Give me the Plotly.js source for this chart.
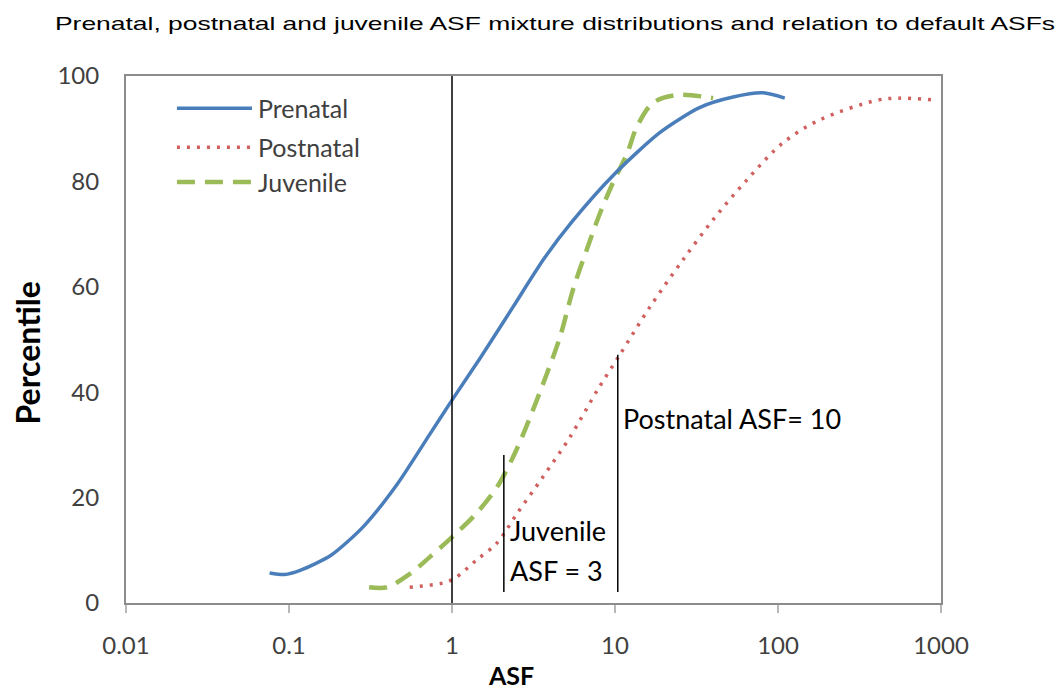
<!DOCTYPE html>
<html>
<head>
<meta charset="utf-8">
<script src="https://cdn.plot.ly/plotly-3.0.1.min.js"></script>
<style>html,body{margin:0;padding:0;background:#fff;}#chart{width:1058px;height:691px;}</style>
</head>
<body>
<div id="chart"></div>
<script>
// ---- data ----
const seriesNames = ["Prenatal", "Postnatal", "Juvenile"];

const prenatalX = [0.076, 0.094, 0.117, 0.18, 0.284, 0.46, 0.73, 1.0, 1.49, 2.37, 3.7, 5.5, 10, 18.9, 33, 53, 81, 110];
const prenatalY = [5.7, 5.4, 6.2, 9.0, 14.4, 22.5, 32, 38.5, 46.5, 56.2, 65.5, 72.5, 81.5, 89.3, 94, 96, 96.8, 95.8];

const postnatalX = [0.55, 0.88, 1.04, 1.42, 1.89, 2.51, 3.61, 5.3, 7.8, 10.7, 16.4, 26.1, 39.9, 64.5, 107, 181, 405, 557, 945];
const postnatalY = [3.0, 3.8, 4.7, 8.2, 11.4, 17.0, 23.9, 31.5, 40.4, 47.1, 56.2, 65.1, 72.7, 80.3, 87.3, 91.7, 95.4, 95.8, 95.4];

const juvenileX = [0.31, 0.4, 0.55, 0.73, 1.0, 1.42, 1.89, 2.37, 2.8, 3.83, 4.6, 5.52, 6.7, 8.1, 9.7, 11.9, 13.6, 17.1, 24, 40];
const juvenileY = [3.0, 3.0, 5.5, 8.7, 12.5, 17.1, 22, 27.7, 32.8, 43.6, 50.5, 59.4, 67, 74, 79.7, 85.4, 90.3, 94.9, 96.4, 95.8];

// default ASF marker lines
const defaultLineX = [1, 1];
const defaultLineY = [0, 100.8];
const juvenileMarkX = [2.08, 2.08];
const juvenileMarkY = [2.1, 28.1];
const postnatalMarkX = [10.4, 10.4];
const postnatalMarkY = [2.1, 47.1];

const xTickVals = [0.01, 0.1, 1, 10, 100, 1000];
const xTickText = ["0.01", "0.1", "1", "10", "100", "1000"];
const yTickVals = [0, 20, 40, 60, 80, 100];

const annJuvenile = {x: 2.2, lines: ["Juvenile", "ASF = 3"], y: [13.85, 6.26]};
const annPostnatal = {x: 10.9, text: "Postnatal ASF= 10", y: 35.1};

// ---- styles ----
const colors = ["#4a7ebb", "#d0605e", "#9bbb59"];
const dashes = ["solid", "3px,7px", "18px,10px"];
const widths = [3.5, 3.5, 4.5];
const smooth = [0.7, 0.9, 0.9];
const calib = "Lato, 'Open Sans', sans-serif";

const curves = [[prenatalX, prenatalY], [postnatalX, postnatalY], [juvenileX, juvenileY]];
const traces = curves.map((c, i) => ({
  x: c[0], y: c[1], type: "scatter", mode: "lines", name: seriesNames[i],
  line: {color: colors[i], width: widths[i], dash: dashes[i], shape: "spline", smoothing: smooth[i]},
  showlegend: false, hoverinfo: "x+y+name"
}));
const markLines = [[defaultLineX, defaultLineY], [juvenileMarkX, juvenileMarkY], [postnatalMarkX, postnatalMarkY]].map(m => ({
  x: m[0], y: m[1], type: "scatter", mode: "lines", line: {color: "#000", width: 1.5},
  showlegend: false, hoverinfo: "skip", cliponaxis: false
}));
const data = [traces[2], traces[1], traces[0]].concat(markLines);

// manual legend
const legX0 = 0.0625, legX1 = 0.1546, legTx = 0.159;
const legY = [0.939, 0.865, 0.799];
const shapes = seriesNames.map((n, i) => ({
  type: "line", xref: "paper", yref: "paper", x0: legX0, x1: legX1, y0: legY[i], y1: legY[i],
  line: {color: colors[i], width: widths[i], dash: dashes[i]}
}));
const annotations = seriesNames.map((n, i) => ({
  xref: "paper", yref: "paper", x: legTx, y: legY[i], xanchor: "left", yanchor: "middle",
  text: n, showarrow: false, font: {family: calib, size: 25, color: "#404040"}
}));
annJuvenile.lines.forEach((t, i) => annotations.push({
  xref: "x", yref: "y", x: Math.log10(annJuvenile.x), y: annJuvenile.y[i], xanchor: "left", yanchor: "middle",
  text: t, showarrow: false, font: {family: calib, size: 27, color: "#000"}
}));
annotations.push({
  xref: "x", yref: "y", x: Math.log10(annPostnatal.x), y: annPostnatal.y, xanchor: "left", yanchor: "middle",
  text: annPostnatal.text, showarrow: false, font: {family: calib, size: 27, color: "#000"}
});
// axis titles
annotations.push({xref: "paper", yref: "paper", x: (511 - 126) / 815, y: -(675 - 603) / 527, xanchor: "center", yanchor: "middle",
  text: "<b>ASF</b>", showarrow: false, font: {family: calib, size: 25, color: "#000"}});
annotations.push({xref: "paper", yref: "paper", x: (26.5 - 126) / 815, y: (603 - 353) / 527, xanchor: "center", yanchor: "middle", textangle: -90,
  text: "<b>Percentile</b>", showarrow: false, font: {family: calib, size: 32, color: "#000"}});

const layout = {
  width: 1058, height: 691,
  margin: {l: 126, r: 117, t: 76, b: 88},
  paper_bgcolor: "#fff", plot_bgcolor: "#fff",
  title: {text: "Prenatal, postnatal and juvenile ASF mixture distributions and relation to default ASFs",
    font: {family: "'Liberation Sans', Arial, sans-serif", size: 19, color: "#000"},
    x: 555 / 1058, xanchor: "center", y: 1 - 23 / 691, yanchor: "middle"},
  xaxis: {type: "log", range: [-2, 3], tickvals: xTickVals, ticktext: xTickText,
    showgrid: false, zeroline: false, showline: true, linecolor: "#8c8c8c", linewidth: 2, mirror: true,
    ticks: "outside", ticklen: 8, tickcolor: "#b8b8b8", tickwidth: 2, ticklabelstandoff: 12,
    tickfont: {family: calib, size: 24, color: "#404040"}},
  yaxis: {range: [0, 100], tickvals: yTickVals, showgrid: false, zeroline: false,
    showline: true, linecolor: "#8c8c8c", linewidth: 2, mirror: true, ticks: "",
    ticklabelstandoff: 20, tickfont: {family: calib, size: 24, color: "#404040"}},
  shapes: shapes, annotations: annotations, showlegend: false
};

Plotly.newPlot("chart", data, layout, {displayModeBar: false, staticPlot: true}).then(gd => {
  // the reference title is horizontally stretched: fit it to the same span
  const t = gd.querySelector(".gtitle");
  if (t) {
    t.setAttribute("textLength", "1000");
    t.setAttribute("lengthAdjust", "spacingAndGlyphs");
  }
});
</script>
</body>
</html>
